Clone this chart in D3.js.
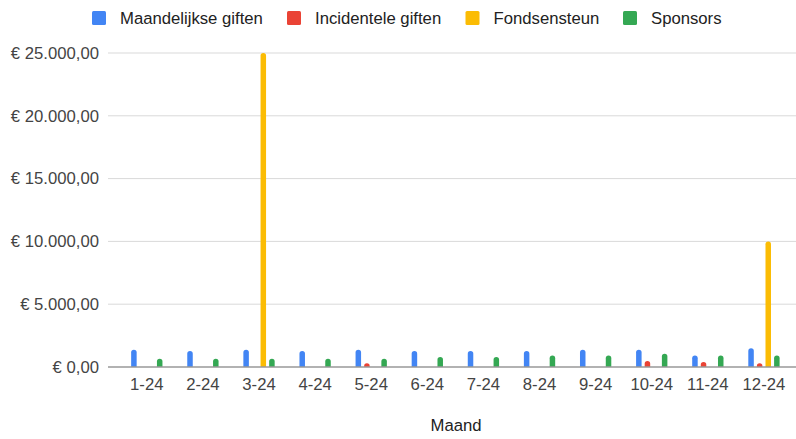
<!DOCTYPE html>
<html>
<head>
<meta charset="utf-8">
<script src="https://cdn.jsdelivr.net/npm/d3@7"></script>
<style>
  html, body { margin: 0; padding: 0; background: #fff; }
  text { font-family: Arial, "Liberation Sans", sans-serif; }
</style>
</head>
<body>
<div id="chart"></div>
<script>
// --------------- Data ---------------
const MONTHS = ["1-24", "2-24", "3-24", "4-24", "5-24", "6-24", "7-24", "8-24", "9-24", "10-24", "11-24", "12-24"];
const SERIES = ["Maandelijkse giften", "Incidentele giften", "Fondsensteun", "Sponsors"];
const MAANDELIJKS = [1375, 1275, 1375, 1275, 1375, 1275, 1275, 1275, 1375, 1375, 925, 1500];
const INCIDENTEEL = [0, 0, 0, 0, 300, 0, 0, 0, 0, 475, 400, 300];
const FONDSEN = [0, 0, 25000, 0, 0, 0, 0, 0, 0, 0, 0, 10000];
const SPONSORS = [650, 650, 650, 650, 650, 800, 800, 925, 925, 1050, 925, 925];
const Y_TICKS = [0, 5000, 10000, 15000, 20000, 25000];
const X_TITLE = "Maand";

// --------------- Constants ---------------
const WIDTH = 796;
const HEIGHT = 439;
const PLOT = { left: 118.75, right: 792, top: 53, bottom: 367 };
const COLORS = ["#4285F4", "#EA4335", "#FBBC04", "#34A853"];
const FONT_SIZE = 16.7;

const values = [MAANDELIJKS, INCIDENTEEL, FONDSEN, SPONSORS];

const nl = d3.formatLocale({
  decimal: ",",
  thousands: ".",
  grouping: [3],
  currency: ["€ ", ""]
});
const euro = nl.format("$,.2f");

// --------------- Prep SVG ---------------
const svg = d3
  .select("#chart")
  .append("svg")
  .attr("width", WIDTH)
  .attr("height", HEIGHT);

const x0 = d3.scaleBand().domain(MONTHS).range([PLOT.left, PLOT.right]);
const GROUP_WIDTH = 31.3;
const x1 = d3.scaleBand().domain(SERIES).range([0, GROUP_WIDTH]).paddingInner(0.36);
const y = d3.scaleLinear().domain([0, 25000]).range([PLOT.bottom, PLOT.top]);

// gridlines + y labels
Y_TICKS.forEach((t) => {
  if (t > 0) {
    svg
      .append("line")
      .attr("x1", 108)
      .attr("x2", WIDTH)
      .attr("y1", y(t))
      .attr("y2", y(t))
      .attr("stroke", "#d9d9d9")
      .attr("stroke-width", 1);
  }
  svg
    .append("text")
    .text(euro(t))
    .attr("x", 99)
    .attr("y", y(t))
    .attr("dy", "0.35em")
    .attr("text-anchor", "end")
    .attr("font-size", FONT_SIZE)
    .attr("fill", "#444");
});

// bars with rounded tops
const barPath = (bx, by, w, h) => {
  const r = Math.min(w / 2, h);
  return `M${bx},${by + h} L${bx},${by + r} Q${bx},${by} ${bx + r},${by} L${bx + w - r},${by} Q${bx + w},${by} ${bx + w},${by + r} L${bx + w},${by + h} Z`;
};

SERIES.forEach((s, si) => {
  values[si].forEach((v, mi) => {
    if (v <= 0) return;
    const center = x0(MONTHS[mi]) + x0.bandwidth() / 2;
    const bx = center - GROUP_WIDTH / 2 + x1(s);
    const by = y(v);
    svg
      .append("path")
      .attr("d", barPath(bx, by, x1.bandwidth(), y(0) - by))
      .attr("fill", COLORS[si]);
  });
});

// baseline
svg
  .append("line")
  .attr("x1", 108)
  .attr("x2", WIDTH)
  .attr("y1", y(0))
  .attr("y2", y(0))
  .attr("stroke", "#999")
  .attr("stroke-width", 1.5);

// x labels
MONTHS.forEach((m) => {
  svg
    .append("text")
    .text(m)
    .attr("x", x0(m) + x0.bandwidth() / 2)
    .attr("y", 390)
    .attr("text-anchor", "middle")
    .attr("font-size", FONT_SIZE)
    .attr("fill", "#444");
});

svg
  .append("text")
  .text(X_TITLE)
  .attr("x", 456)
  .attr("y", 431)
  .attr("text-anchor", "middle")
  .attr("font-size", FONT_SIZE)
  .attr("fill", "#222");

// --------------- Legend ---------------
const LEGEND_X = [92, 287, 465.5, 623];
SERIES.forEach((s, i) => {
  svg
    .append("rect")
    .attr("x", LEGEND_X[i])
    .attr("y", 11)
    .attr("width", 14)
    .attr("height", 14)
    .attr("rx", 1.5)
    .attr("fill", COLORS[i]);
  svg
    .append("text")
    .text(s)
    .attr("x", LEGEND_X[i] + 28)
    .attr("y", 18)
    .attr("dy", "0.35em")
    .attr("font-size", FONT_SIZE)
    .attr("fill", "#222");
});
</script>
</body>
</html>
